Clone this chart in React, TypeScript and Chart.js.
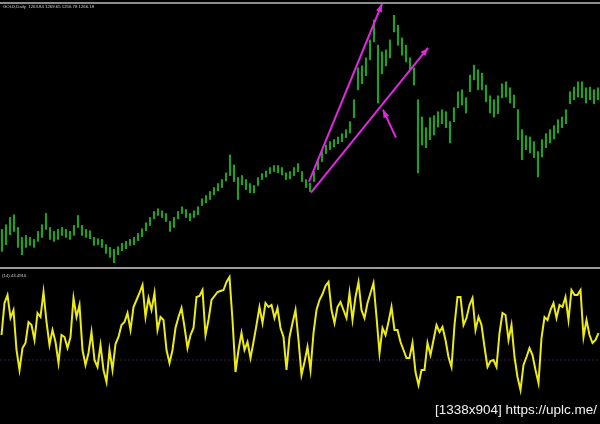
import { useEffect, useRef } from "react";
import { Chart, registerables } from "chart.js";

Chart.register(...registerables);

const symbolLabel = "GOLD,Daily  1263.84 1269.65 1256.78 1266.18";
const indicatorLabel = "(14) 43.4916";
const watermark = "[1338x904] https://uplc.me/";

const priceMin = 1000;
const priceMax = 1400;
const indicatorMin = -2;
const indicatorMax = 75;

const barHighs = [
  1058, 1065, 1076, 1080, 1061, 1046, 1049, 1046, 1043, 1055,
  1065, 1082, 1061, 1055, 1058, 1061, 1058, 1055, 1064, 1079,
  1064, 1058, 1056, 1046, 1044, 1043, 1035, 1031, 1028, 1032,
  1037, 1040, 1043, 1046, 1052, 1059, 1068, 1076, 1085, 1089,
  1086, 1082, 1070, 1076, 1085, 1092, 1088, 1082, 1086, 1092,
  1104, 1109, 1115, 1121, 1127, 1133, 1143, 1170, 1155, 1136,
  1139, 1133, 1127, 1124, 1136, 1142, 1146, 1151, 1154, 1154,
  1151, 1143, 1145, 1151, 1157, 1145, 1133, 1128, 1145, 1163,
  1175, 1185, 1190, 1193, 1197, 1202, 1208, 1220, 1253, 1301,
  1304, 1316, 1343, 1373, 1335, 1325, 1328, 1343, 1380, 1365,
  1346, 1335, 1316, 1301, 1253, 1227, 1211, 1226, 1229, 1235,
  1238, 1235, 1220, 1241, 1265, 1268, 1256, 1290, 1305, 1298,
  1293, 1275, 1259, 1253, 1259, 1277, 1280, 1271, 1260, 1238,
  1208, 1199, 1197, 1190, 1175, 1193, 1202, 1208, 1214, 1223,
  1227, 1238, 1265, 1272, 1280, 1280, 1271, 1272, 1268, 1271,
];

const barLows = [
  1025, 1035, 1050, 1055, 1031, 1020, 1031, 1034, 1031, 1040,
  1046, 1058, 1043, 1040, 1043, 1049, 1046, 1043, 1049, 1061,
  1049, 1046, 1044, 1034, 1035, 1031, 1022, 1016, 1008, 1020,
  1026, 1029, 1034, 1035, 1041, 1047, 1056, 1064, 1074, 1079,
  1076, 1070, 1055, 1061, 1074, 1082, 1076, 1071, 1076, 1080,
  1094, 1098, 1103, 1110, 1116, 1121, 1131, 1139, 1130, 1103,
  1125, 1118, 1113, 1113, 1124, 1133, 1137, 1142, 1145, 1143,
  1140, 1133, 1134, 1139, 1145, 1130, 1121, 1115, 1130, 1148,
  1160, 1172, 1178, 1182, 1187, 1190, 1196, 1203, 1226, 1268,
  1277, 1289, 1313, 1340, 1248, 1292, 1304, 1316, 1355, 1335,
  1320, 1310, 1298, 1275, 1143, 1185, 1181, 1193, 1200, 1212,
  1217, 1211, 1188, 1220, 1241, 1245, 1233, 1265, 1283, 1268,
  1268, 1250, 1233, 1227, 1232, 1256, 1257, 1248, 1241, 1193,
  1163, 1178, 1173, 1166, 1137, 1167, 1181, 1188, 1194, 1203,
  1211, 1217, 1247, 1253, 1257, 1256, 1248, 1253, 1247, 1253,
];

const indicatorValues = [
  42.5, 58.5, 62.5, 51, 55, 35, 25, 36, 38.5, 49,
  47.5, 40, 53.5, 51.5, 64, 49, 37.5, 45, 39, 28.5,
  42.5, 41.5, 36, 41.5, 61, 51.5, 57.5, 35, 27.5, 33.5,
  44, 30, 26.5, 37.5, 25, 19, 35, 25, 38, 41.5,
  47.5, 49, 53.5, 45, 56.5, 60, 63.5, 67.5, 51.5, 61,
  55, 63.5, 45, 51.5, 50, 35, 28.5, 35, 46, 51.5,
  56, 46.5, 36, 42.5, 46, 61.5, 62, 65, 42.5, 50,
  60, 62, 64, 64.5, 65, 69, 71.5, 50, 24, 35,
  43.5, 35, 39, 31, 39, 47.5, 56.5, 48.5, 58.5, 56.5,
  57.5, 51, 56, 46, 41.5, 25, 41.5, 48.5, 55, 40,
  22.5, 29, 36.5, 25, 43.5, 55, 60, 63, 67, 69,
  55, 48.5, 56.5, 59, 55, 51, 63.5, 50, 61.5, 69,
  55, 51, 58.5, 63.5, 68.5, 51.5, 33.5, 46, 42.5, 49,
  56.5, 45, 45, 39, 35, 31, 31, 38.5, 24, 17.5,
  25, 25, 38.5, 32.5, 40, 47.5, 44, 46.5, 40, 31.5,
  26.5, 47.5, 61.5, 61.5, 47.5, 51, 57.5, 61, 45, 51.5,
  47.5, 36.5, 26.5, 29.5, 30, 26.5, 43.5, 53.5, 52.5, 40,
  47.5, 31.5, 21.5, 15, 27.5, 31.5, 36, 32.5, 25, 18.5,
  41, 51.5, 50, 55, 58.5, 51, 57.5, 56.5, 61.5, 50,
  65, 62.5, 62.5, 65, 41.5, 50, 42.5, 38.5, 40, 43.49,
];

const indicatorLevels = [30];

// Hand-drawn trend arrows: [bar index, price] pairs (start -> arrow tip)
const steepArrow = [
  { x: 76.75, y: 1130 },
  { x: 95, y: 1397 },
];
const channelArrow = [
  { x: 77.25, y: 1113.5 },
  { x: 106.5, y: 1331 },
];
const pointerArrow = [
  { x: 98.5, y: 1196 },
  { x: 95.25, y: 1238 },
];

const GREEN = "#23a023";
const MAGENTA = "#e028e0";
const YELLOW = "#ecec14";

const arrowPlugin = {
  id: "arrowHeads",
  afterDatasetsDraw(chart: any) {
    const ctx = chart.ctx;
    chart.data.datasets.forEach((ds: any, i: number) => {
      if (!ds.arrow) return;
      const pts = chart.getDatasetMeta(i).data;
      if (pts.length < 2) return;
      const a = pts[pts.length - 2];
      const b = pts[pts.length - 1];
      const ang = Math.atan2(b.y - a.y, b.x - a.x);
      const len = 8;
      const half = 3.2;
      const bx = b.x - len * Math.cos(ang);
      const by = b.y - len * Math.sin(ang);
      ctx.save();
      ctx.fillStyle = ds.borderColor;
      ctx.beginPath();
      ctx.moveTo(b.x, b.y);
      ctx.lineTo(bx + half * Math.sin(ang), by - half * Math.cos(ang));
      ctx.lineTo(bx - half * Math.sin(ang), by + half * Math.cos(ang));
      ctx.closePath();
      ctx.fill();
      ctx.restore();
    });
  },
};

const arrowDataset = (pts: { x: number; y: number }[]) => ({
  type: "line" as const,
  data: pts,
  borderColor: MAGENTA,
  borderWidth: 2,
  pointRadius: 0,
  order: 0,
  arrow: true,
});

export default function App() {
  const topRef = useRef<HTMLCanvasElement>(null);
  const bottomRef = useRef<HTMLCanvasElement>(null);

  useEffect(() => {
    document.body.style.margin = "0";
    document.body.style.background = "#000";

    const top = new Chart(topRef.current as HTMLCanvasElement, {
      type: "bar",
      data: {
        datasets: [
          {
            type: "bar",
            data: barHighs.map((h, i) => ({ x: i, y: [barLows[i], h] })) as any,
            backgroundColor: GREEN,
            borderWidth: 0,
            barThickness: 1.5,
            order: 1,
          },
          arrowDataset(steepArrow) as any,
          arrowDataset(channelArrow) as any,
          arrowDataset(pointerArrow) as any,
        ],
      },
      options: {
        responsive: false,
        maintainAspectRatio: false,
        animation: false,
        layout: { padding: 0 },
        scales: {
          x: {
            type: "linear",
            offset: false,
            min: -0.5,
            max: barHighs.length - 0.5,
            display: false,
          },
          y: { type: "linear", min: priceMin, max: priceMax, display: false },
        },
        plugins: { legend: { display: false }, tooltip: { enabled: false } },
      },
      plugins: [arrowPlugin],
    });

    const bottom = new Chart(bottomRef.current as HTMLCanvasElement, {
      type: "line",
      data: {
        datasets: [
          {
            data: indicatorValues.map((v, i) => ({ x: i, y: v })),
            borderColor: YELLOW,
            borderWidth: 2,
            pointRadius: 0,
            tension: 0,
            order: 0,
          },
          ...indicatorLevels.map((lv) => ({
            data: [
              { x: -0.5, y: lv },
              { x: indicatorValues.length - 0.5, y: lv },
            ],
            borderColor: "#26264a",
            borderWidth: 1,
            borderDash: [2, 2],
            pointRadius: 0,
            order: 1,
          })),
        ],
      },
      options: {
        responsive: false,
        maintainAspectRatio: false,
        animation: false,
        layout: { padding: 0 },
        scales: {
          x: { type: "linear", min: -0.5, max: indicatorValues.length - 0.5, display: false },
          y: { type: "linear", min: indicatorMin, max: indicatorMax, display: false },
        },
        plugins: { legend: { display: false }, tooltip: { enabled: false } },
      },
    });

    return () => {
      top.destroy();
      bottom.destroy();
    };
  }, []);

  const small: React.CSSProperties = {
    position: "absolute",
    fontFamily: "'Liberation Sans', Arial, sans-serif",
    fontSize: 4.3,
    lineHeight: 1,
    color: "#cfcfcf",
    whiteSpace: "pre",
  };

  return (
    <div style={{ position: "relative", width: 600, height: 424, background: "#000", overflow: "hidden" }}>
      <canvas ref={topRef} width={600} height={266} style={{ position: "absolute", left: 0, top: 2, display: "block" }} />
      <canvas ref={bottomRef} width={600} height={154} style={{ position: "absolute", left: 0, top: 270, display: "block" }} />
      <div style={{ position: "absolute", left: 0, top: 2, width: 600, height: 2, background: "#8c8c8c" }} />
      <div style={{ position: "absolute", left: 0, top: 267, width: 600, height: 2, background: "#9c9c9c" }} />
      <div style={{ ...small, left: 3, top: 5 }}>{symbolLabel}</div>
      <div style={{ ...small, left: 2, top: 274 }}>{indicatorLabel}</div>
      <div
        style={{
          position: "absolute",
          right: 3,
          top: 403,
          fontFamily: "'Liberation Sans', Arial, sans-serif",
          fontSize: 13.5,
          lineHeight: 1,
          color: "#f2f2f2",
          whiteSpace: "pre",
          textShadow: "0 0 2px #000",
        }}
      >
        {watermark}
      </div>
    </div>
  );
}
